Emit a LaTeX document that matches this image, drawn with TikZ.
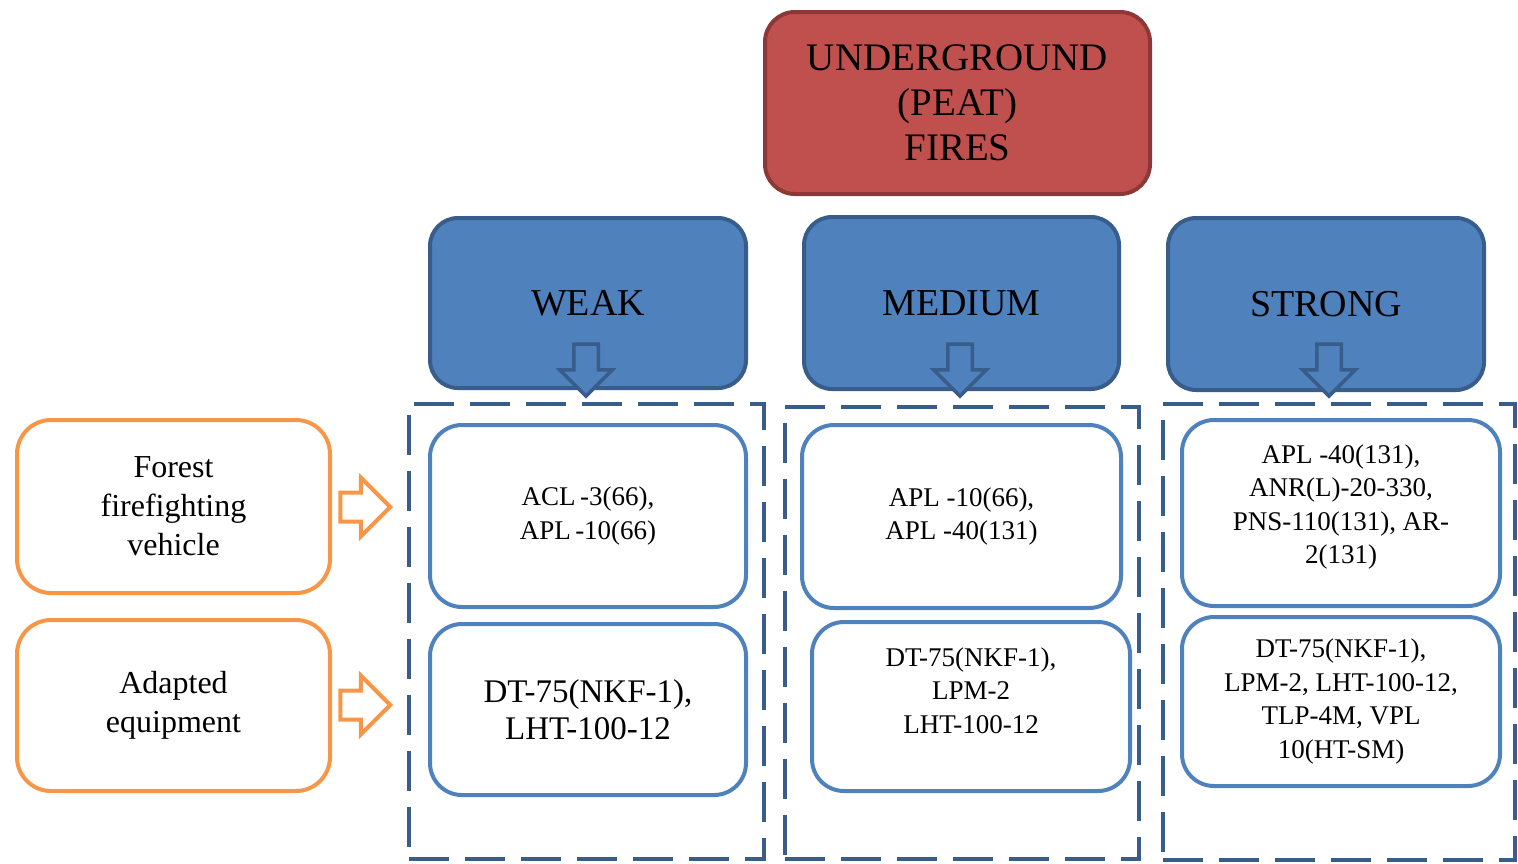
\documentclass[tikz,border=0pt]{standalone}
\usepackage{fontspec}
\setmainfont{Liberation Serif}
\usetikzlibrary{shapes.arrows}
\definecolor{redfill}{HTML}{C0504D}
\definecolor{redline}{HTML}{8C3836}
\definecolor{bluefill}{HTML}{4F81BD}
\definecolor{blueline}{HTML}{385D8A}
\definecolor{lightline}{HTML}{4F81BD}
\definecolor{myorange}{HTML}{F79646}
\begin{document}
\begin{tikzpicture}[x=1pt,y=-1pt,
  redbox/.style={draw=redline, fill=redfill, line width=4pt, rounded corners=30pt,
    inner sep=0pt, align=center, font=\fontsize{39}{45}\selectfont},
  bluebox/.style={draw=blueline, fill=bluefill, line width=4pt, rounded corners=28pt,
    inner sep=0pt, align=center, font=\fontsize{38}{45}\selectfont},
  itembox/.style={draw=lightline, fill=white, line width=4pt, rounded corners=32pt,
    inner sep=0pt, align=center},
  orangebox/.style={draw=myorange, fill=white, line width=4pt, rounded corners=34pt,
    inner sep=0pt, align=center, font=\fontsize{32}{39}\selectfont},
  dashbox/.style={draw=blueline, line width=4pt, dash pattern=on 40pt off 16pt,
    inner sep=0pt},
  txt/.style={inner sep=0pt, align=center},
  downarrow/.style={single arrow, rotate=-90, draw=blueline, fill=bluefill,
    line width=3.5pt, inner sep=0pt, text width=0pt, text height=21pt, text depth=0pt,
    single arrow head extend=14pt, single arrow head indent=0pt, minimum height=52pt},
  rightarrow/.style={single arrow, draw=myorange, fill=white,
    line width=4pt, inner sep=0pt, text width=0pt, text height=25pt, text depth=0pt,
    single arrow head extend=15pt, single arrow head indent=0pt, minimum height=50pt},
  f27/.style={font=\fontsize{27}{33.5}\selectfont},
  f33/.style={font=\fontsize{33}{37}\selectfont}
]
\useasboundingbox (0,0) rectangle (1518,863);

% dashed column frames
\node[dashbox, minimum width=355pt, minimum height=455pt] (d1) at (586.5,631.5) {};
\node[dashbox, minimum width=354pt, minimum height=452pt] (d2) at (961.5,633) {};
\node[dashbox, minimum width=352pt, minimum height=456pt] (d3) at (1339,632) {};

% top box
\node[redbox, minimum width=385pt, minimum height=182pt] (top) at (957.5,103)
  {UNDERGROUND\\(PEAT)\\FIRES};

% level boxes
\node[bluebox, minimum width=316pt, minimum height=170pt] (weak) at (588,303) {WEAK};
\node[bluebox, minimum width=315pt, minimum height=172pt] (medium) at (961.5,303) {MEDIUM};
\node[bluebox, minimum width=316pt, minimum height=172pt] (strong) at (1326,304) {STRONG};

% down arrows
\node[downarrow] (aw) at (586,364) {};
\node[downarrow] (am) at (960,364) {};
\node[downarrow] (as) at (1329,364) {};

% left category boxes
\node[orangebox, minimum width=313pt, minimum height=173pt] (forest) at (173.5,506.5)
  {Forest\\firefighting\\vehicle};
\node[orangebox, minimum width=313pt, minimum height=171pt] (adapted) at (173.5,705.5)
  {Adapted\\equipment};

% right arrows
\node[rightarrow] (af) at (358,507) {};
\node[rightarrow] (aa) at (358,705) {};

% item boxes
\node[itembox, f27, minimum width=316pt, minimum height=182pt] (w1) at (588,516)
  {ACL\,-3(66),\\APL\,-10(66)};
\node[itembox, f33, minimum width=316pt, minimum height=171pt] (w2) at (588,709.5)
  {DT-75(NKF-1),\\LHT-100-12};
\node[itembox, f27, minimum width=319pt, minimum height=183pt] (m1) at (961.5,516.5)
  {APL -10(66),\\APL -40(131)};
\node[itembox, minimum width=318pt, minimum height=169pt] (m2) at (971,706.5) {};
\node[txt, f27] (m2t) at ([yshift=16pt]m2.center)
  {DT-75(NKF-1),\\LPM-2\\LHT-100-12};
\node[itembox, minimum width=318pt, minimum height=186pt] (s1) at (1341,513) {};
\node[txt, f27] (s1t) at ([yshift=6pt]s1.center)
  {APL -40(131),\\ANR(L)-20-330,\\PNS-110(131), AR-\\2(131)};
\node[itembox, f27, minimum width=318pt, minimum height=169pt] (s2) at (1341,701.5)
  {DT-75(NKF-1),\\LPM-2, LHT-100-12,\\TLP-4M, VPL\\10(HT-SM)};
\end{tikzpicture}
\end{document}
